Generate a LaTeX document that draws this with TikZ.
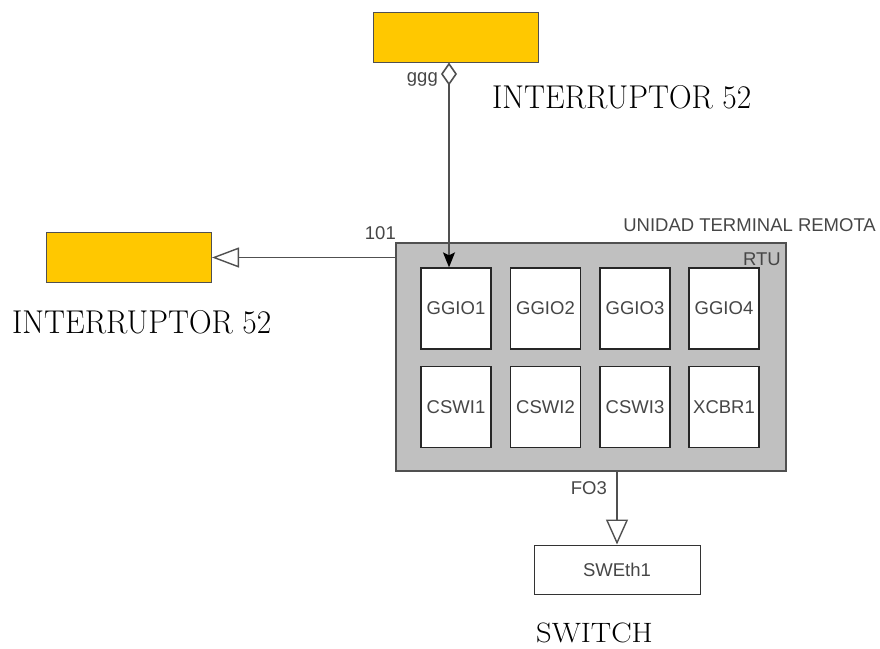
\documentclass[tikz,border=0pt]{standalone}
\usepackage{fontspec}
\setsansfont{Liberation Sans}
\usetikzlibrary{arrows.meta}
\definecolor{ybox}{RGB}{255,200,0}
\definecolor{rtugray}{RGB}{192,192,192}
\definecolor{edge}{RGB}{80,80,80}
\definecolor{lbl}{RGB}{70,70,70}
\tikzset{
  ybx/.style={draw=edge, line width=1pt, fill=ybox, minimum width=165pt, minimum height=50pt, inner sep=0pt},
  rtubx/.style={draw=edge, line width=1.6pt, fill=rtugray, minimum width=390pt, minimum height=228pt, inner sep=0pt},
  lnbx/.style={draw=black!85, line width=1.3pt, fill=white, minimum width=70pt, minimum height=81pt, inner sep=0pt, font=\sffamily\fontsize{18.5}{20}\selectfont, text=lbl},
  swbx/.style={draw=black!80, line width=1pt, fill=white, minimum width=166pt, minimum height=49pt, inner sep=0pt, font=\sffamily\fontsize{18.5}{20}\selectfont, text=lbl},
  conn/.style={draw=edge, line width=1.4pt},
  sans/.style={font=\sffamily\fontsize{18.5}{20}\selectfont, text=lbl, inner sep=0pt},
  serif/.style={font=\fontsize{33}{36}\selectfont, inner sep=0pt},
}
\begin{document}
\begin{tikzpicture}[x=1pt,y=-1pt]
\useasboundingbox (0,0) rectangle (880,648);
% boxes
\node[ybx] (top) at (455.5,37) {};
\node[ybx] (left) at (129,257.5) {};
\node[rtubx] (rtu) at (591,357) {};
\node[lnbx] (g1) at (456,308.5) {GGIO1};
\node[lnbx] (g2) at (545.5,308.5) {GGIO2};
\node[lnbx] (g3) at (635,308.5) {GGIO3};
\node[lnbx] (g4) at (724,308.5) {GGIO4};
\node[lnbx] (c1) at (456,407) {CSWI1};
\node[lnbx] (c2) at (545.5,407) {CSWI2};
\node[lnbx] (c3) at (635,407) {CSWI3};
\node[lnbx] (x1) at (724,407) {XCBR1};
\node[swbx] (sw) at (617,569.5) {SWEth1};
% labels
\node[sans, anchor=south east] (rtulbl) at (781,266) {RTU};
\node[sans, anchor=south east] (unidad) at (876,232) {UNIDAD TERMINAL REMOTA};
\node[sans, anchor=south east] (ggg) at (438,87) {ggg};
\node[sans, anchor=south east] (l101) at (396,240) {101};
\node[sans, anchor=south east] (fo3) at (607,495) {FO3};
\node[serif, anchor=base west] (int1) at (492,108.5) {\scalebox{0.95}[1]{INTERRUPTOR 52}};
\node[serif, anchor=base west] (int2) at (12,333.5) {\scalebox{0.95}[1]{INTERRUPTOR 52}};
\node[serif, font=\fontsize{28}{32}\selectfont, anchor=base west] (swt) at (536,642) {\scalebox{1.09}[1]{SWITCH}};
% connectors
\draw[conn, {Diamond[open, length=23pt, width=16pt, line width=1.6pt, fill=white]}-{Stealth[length=15pt, width=12pt, inset=3pt, color=black, fill=black]}]
  ([xshift=-6.5pt]top.south) -- ([xshift=-7pt]g1.north);
\draw[conn, -{Triangle[open, length=27pt, width=20pt, line width=1.4pt, fill=white]}]
  (rtu.west |- left.east) -- (left.east);
\draw[conn, -{Triangle[open, length=25pt, width=22pt, line width=1.4pt, fill=white]}]
  (rtu.south -| sw.north) -- (sw.north);
\end{tikzpicture}
\end{document}
